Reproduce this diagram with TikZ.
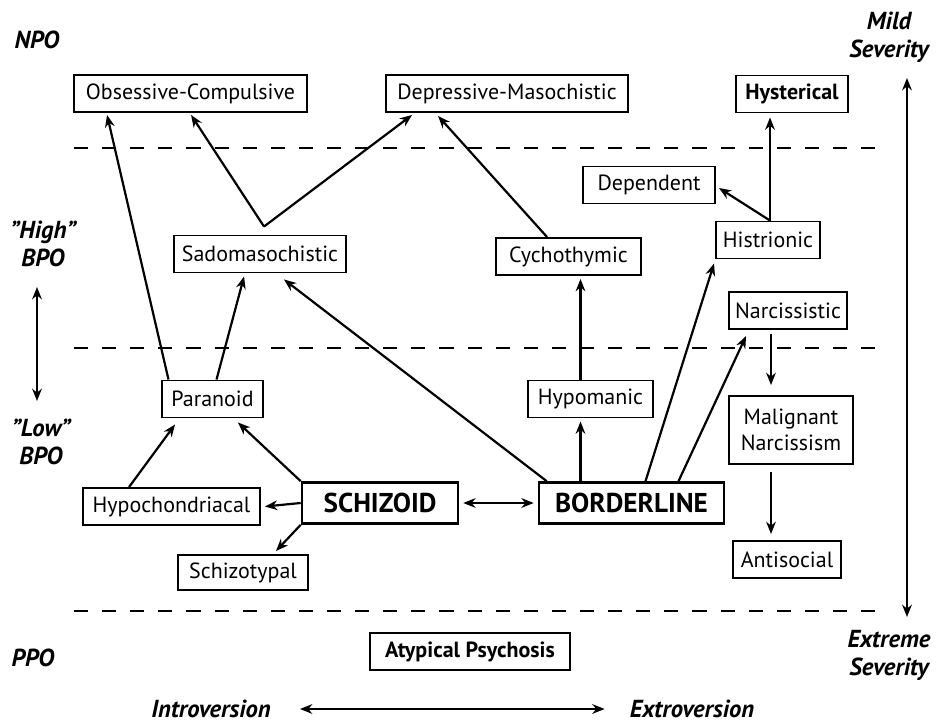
\documentclass[tikz,border=0pt]{standalone}
\usepackage{fontspec}
\setmainfont{PT Sans}
\usetikzlibrary{positioning, calc, arrows.meta}

\begin{document}
\begin{tikzpicture}[x=0.02cm, y=-0.02cm,
    box/.style={draw, line width=1.1pt, minimum height=0.74cm, inner sep=2pt,
      font=\fontsize{12.5}{15}\selectfont},
    boldbox/.style={box, font=\fontsize{12.5}{15}\selectfont\bfseries},
    bigbox/.style={box, line width=1.5pt, minimum height=0.82cm,
      font=\fontsize{15.5}{18}\selectfont\bfseries},
    level/.style={inner sep=0pt, align=center,
      font=\fontsize{14}{16}\selectfont\bfseries\itshape},
    link/.style={-{Stealth[length=7pt,width=5.5pt]}, line width=1.25pt},
    both/.style={{Stealth[length=7pt,width=5.5pt]}-{Stealth[length=7pt,width=5.5pt]}, line width=1.25pt},
    divider/.style={dash pattern=on 8pt off 8pt, line width=1.2pt}]

    \useasboundingbox (0,0) rectangle (936,722);

    % 境界線
    \draw[divider] (74,148) -- (887,148);
    \draw[divider] (74,348) -- (887,348);
    \draw[divider] (74,611) -- (887,611);

    % 左右の見出し
    \node[level] (npo) at (37,40) {NPO};
    \node[level] (high) at (43,244) {\char"22 High\char"22\\BPO};
    \node[level] (low) at (41,442) {\char"22 Low\char"22\\BPO};
    \node[level] (ppo) at (33,658) {PPO};
    \node[level] (mild) at (889,37) {Mild\\Severity};
    \node[level] (extreme) at (889,655) {Extreme\\Severity};
    \node[level] (intro) at (211,709) {Introversion};
    \node[level] (extro) at (692,709) {Extroversion};

    % 軸の矢印
    \coordinate (bpotop) at (37,287);
    \coordinate (bpobot) at (37,401);
    \coordinate (sevtop) at (907,78);
    \coordinate (sevbot) at (907,617);
    \draw[both] (bpotop) -- (bpobot);
    \draw[both] (sevtop) -- (sevbot);
    \draw[both] ($(intro.east)+(29,0)$) -- ($(extro.west)+(-25,0)$);

    % NPO
    \node[box, minimum width=4.66cm] (oc) at (190.5,93.5) {Obsessive-Compulsive};
    \node[box, minimum width=4.84cm] (dm) at (507,93.5) {Depressive-Masochistic};
    \node[boldbox, minimum width=2.24cm] (hyst) at (792,94) {Hysterical};

    % BPO
    \node[box, minimum width=2.64cm] (dep) at (649,185) {Dependent};
    \node[box, minimum width=2.08cm] (hist) at (768,240) {Histrionic};
    \node[box, minimum width=3.44cm] (sado) at (260,254) {Sadomasochistic};
    \node[box, minimum width=2.9cm] (cyclo) at (568.5,256.5) {Cychothymic};
    \node[box, minimum width=2.36cm] (narc) at (788,310.5) {Narcissistic};
    \node[box, minimum width=2.02cm] (para) at (212.5,399) {Paranoid};
    \node[box, minimum width=2.5cm] (hypom) at (590.5,399) {Hypomanic};
    \node[box, minimum width=2.48cm, minimum height=1.36cm, align=center] (malig) at (791,430) {Malignant\\Narcissism};
    \node[box, minimum width=3.54cm] (hypoch) at (171.5,506.5) {Hypochondriacal};
    \node[bigbox, minimum width=3.12cm] (schizoid) at (380,503) {SCHIZOID};
    \node[bigbox, minimum width=3.7cm] (border) at (631.5,503) {BORDERLINE};
    \node[box, minimum width=2.6cm, minimum height=0.7cm] (schizot) at (243,572.5) {Schizotypal};
    \node[box, minimum width=2.16cm] (anti) at (787,559.5) {Antisocial};

    % PPO
    \node[boldbox, minimum width=4cm] (atyp) at (470,651.5) {Atypical Psychosis};

    % 矢印
    \coordinate (apex) at ($(sado.north)+(4,-8)$);
    \draw[link] ($(para.north)+(-44,0)$) -- ($(oc.south west)+(34,2)$);
    \draw[link] ($(para.north)+(4,0)$) -- ($(sado.south west)+(71,3)$);
    \draw[link] (apex) -- ($(oc.south west)+(118,2)$);
    \draw[link] (apex) -- ($(dm.south west)+(27,2)$);
    \draw[link] ($(cyclo.north west)+(52,0)$) -- ($(dm.south west)+(53,3)$);
    \draw[link] ($(hypom.north)+(-10,0)$) -- ($(cyclo.south)+(12,3)$);
    \draw[link] ($(border.north)+(-51,0)$) -- ($(hypom.south)+(-10,3)$);
    \draw[link] ($(border.north west)+(9,0)$) -- ($(sado.south east)+(-63,6)$);
    \draw[link] ($(border.north)+(14,0)$) -- ($(hist.south west)+(-1,4)$);
    \draw[link] ($(border.north)+(47,0)$) -- ($(narc.south west)+(18,6)$);
    \draw[link] ($(hist.north)+(2,0)$) -- ($(dep.east)+(3,3)$);
    \draw[link] ($(hist.north)+(2,0)$) -- ($(hyst.south)+(-22,4)$);
    \draw[link] ($(narc.south)+(-17,4)$) -- ($(malig.north)+(-20,-10)$);
    \draw[link] ($(malig.south)+(-20,7)$) -- ($(anti.north)+(-16,-6)$);
    \draw[link] (schizoid.north west) -- ($(para.south east)+(-26,4)$);
    \draw[link] (schizoid.west) -- ($(hypoch.east)+(4,0)$);
    \draw[link] (schizoid.south west) -- ($(schizot.north east)+(-33,-3)$);
    \draw[link] ($(hypoch.north west)+(47,0)$) -- ($(para.south west)+(14,6)$);
    \draw[both] ($(schizoid.east)+(4,0)$) -- ($(border.west)+(-4,0)$);
\end{tikzpicture}
\end{document}
